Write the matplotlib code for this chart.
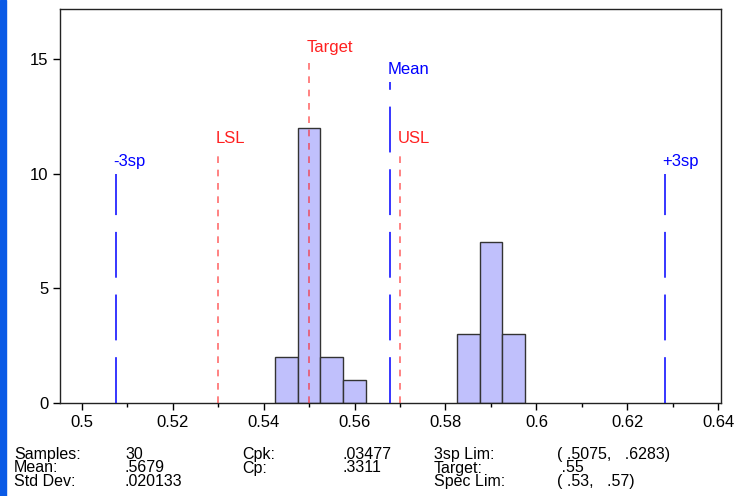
import matplotlib
matplotlib.use('Agg')
import matplotlib.pyplot as plt
from matplotlib.patches import Rectangle
from matplotlib.ticker import MultipleLocator

plt.rcParams['font.family'] = ['Liberation Sans', 'DejaVu Sans']

# histogram bins (left edges) and counts
bin_left = [0.5425, 0.5475, 0.5525, 0.5575, 0.5825, 0.5875, 0.5925]
bin_counts = [2, 12, 2, 1, 3, 7, 3]
bin_width = 0.005

# reference lines: label, x position, height
sp_lines = [('-3sp', 0.5075, 10), ('+3sp', 0.6283, 10)]
mean_line = ('Mean', 0.5679, 14)
spec_lines = [('LSL', 0.53, 11), ('USL', 0.57, 11), ('Target', 0.55, 15)]

# summary table under the chart
stats_left = [('Samples:', '30'), ('Mean:', '.5679'), ('Std Dev:', '.020133')]
stats_mid = [('Cpk:', '.03477'), ('Cp:', '.3311')]
stats_right = [('3sp Lim:', '( .5075,   .6283)'), ('Target:', ' .55'), ('Spec Lim:', '( .53,   .57)')]

W, H = 736, 496
fig = plt.figure(figsize=(W / 100, H / 100), dpi=100)
fig.patches.append(Rectangle((0, 0), 6 / W, 1, transform=fig.transFigure,
                             color='#0a5ae6', zorder=0))

ax = fig.add_axes([60 / W, (H - 402.7) / H, (720.7 - 60) / W, (402.7 - 8.7) / H])
ax.bar(bin_left, bin_counts, width=bin_width, align='edge',
       facecolor='#c0c0fc', edgecolor='#333333', linewidth=1.0, zorder=2)

blue = '#0000ff'
red = '#ff2020'
for name, x, h in sp_lines + [mean_line]:
    ax.plot([x, x], [0, h], color=blue, lw=1.1, dashes=(30, 11), zorder=3)
    ax.text(x - 0.0006, h + 0.2, name, color=blue, fontsize=12,
            ha='left', va='bottom')
for name, x, h in spec_lines:
    ax.plot([x, x], [0, h], color=red, lw=1.2, alpha=0.65, dashes=(4, 4), zorder=3)
    ax.text(x - 0.0006, h + 0.2, name, color=red, fontsize=12,
            ha='left', va='bottom')

ax.set_xlim(0.49523, 0.64053)
ax.set_ylim(0, 17.2)
ax.xaxis.set_minor_locator(MultipleLocator(0.01))
ax.yaxis.set_major_locator(MultipleLocator(5))
ax.set_xticks([0.5, 0.52, 0.54, 0.56, 0.58, 0.6, 0.62, 0.64])
ax.set_xticklabels(['0.5', '0.52', '0.54', '0.56', '0.58', '0.6', '0.62', '0.64'])
ax.tick_params(axis='both', which='major', direction='out', length=5,
               width=1, pad=3.5, labelsize=12)
ax.tick_params(axis='x', which='minor', direction='out', length=3, width=1)
for s in ax.spines.values():
    s.set_linewidth(1.0)
    s.set_color('#222222')

# summary text
def put(x, y, s):
    fig.text(x / W, 1 - y / H, s, fontsize=11.5, ha='left', va='baseline')

rows = [459, 472.5, 486]
for (k, v), y in zip(stats_left, rows):
    put(14, y, k)
    put(125, y, v)
for (k, v), y in zip(stats_mid, rows):
    put(242, y, k)
    put(343, y, v)
for (k, v), y in zip(stats_right, rows):
    put(434, y, k)
    put(557, y, v)

fig.savefig('out.png', dpi=100)
